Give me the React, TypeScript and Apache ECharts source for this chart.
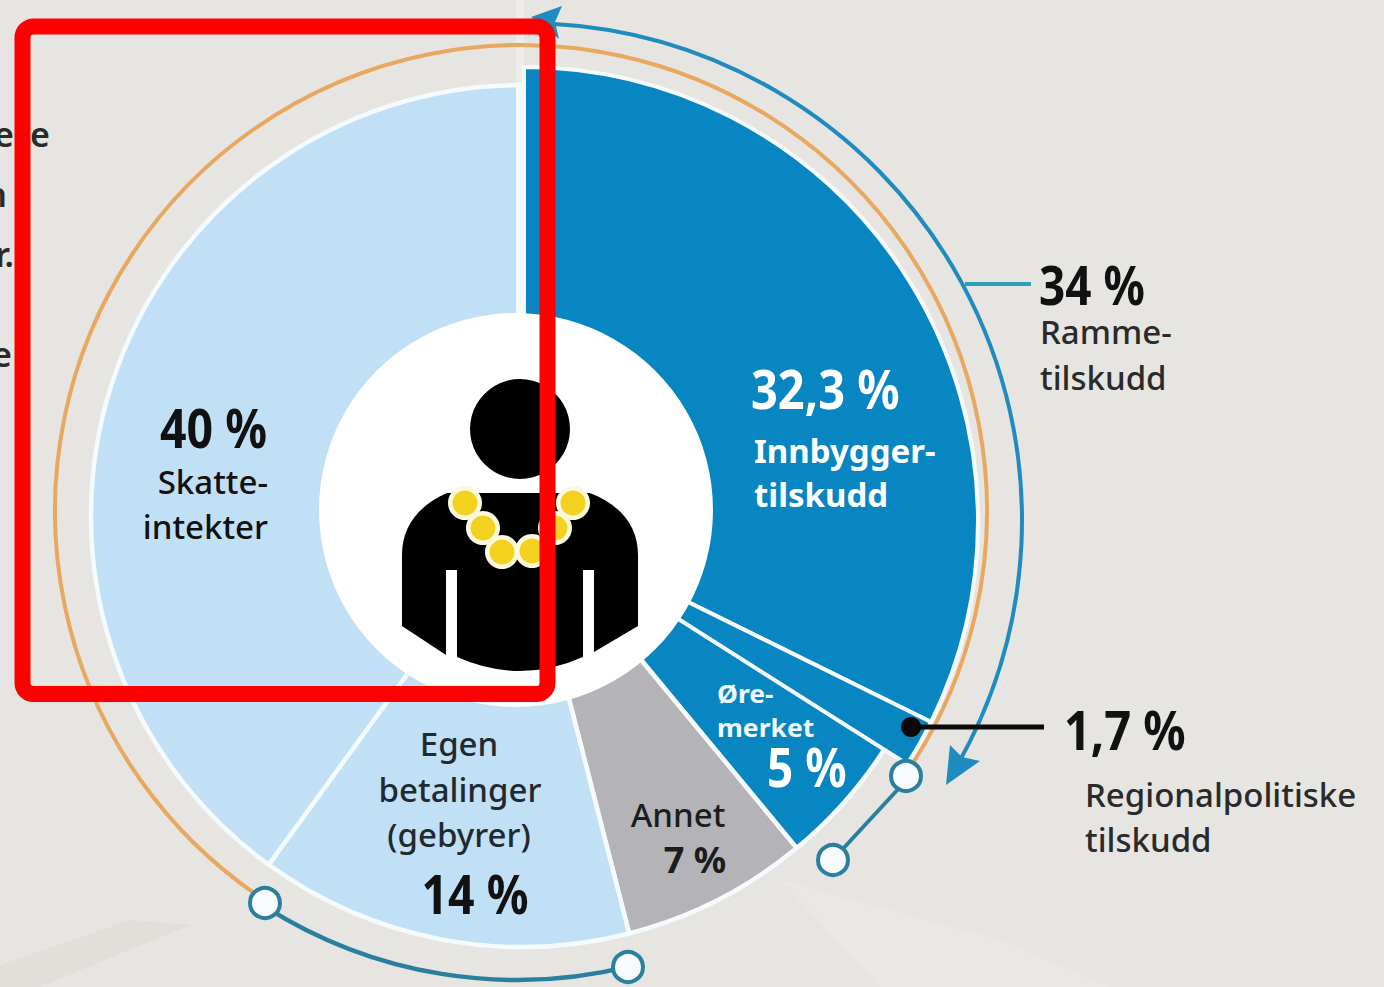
import React, { useEffect, useRef } from "react";
import * as echarts from "echarts";

const categories = ["Innbyggertilskudd", "Regionalpolitiske tilskudd", "Øremerket", "Annet", "Egenbetalinger (gebyrer)", "Skatteinntekter"];
const shares = [32.3, 1.7, 5, 7, 14, 40];
const outerCategories = new Set(["Innbyggertilskudd", "Regionalpolitiske tilskudd"]);
const sliceColors = ["#0886c1", "#0886c1", "#0886c1", "#b4b4b8", "#c1e0f5", "#c1e0f5"];

const BG = "#e6e5e1";
const SANS = "'Noto Sans', 'Open Sans', sans-serif";

const clock = (deg: number) => ((deg - 90) * Math.PI) / 180;

const BODY =
  "M446 655 L402 626 L402 555 C402 525 420 505 447 493 L590 493 C620 505 638 525 638 555 L638 626 L594 652 L594 570 L583 570 L583 657 Q520 685 457 657 L457 570 L446 570 Z";

type T = { t: string; x: number; y: number; s: number; c?: string; w?: number; a?: string; k?: number };
const labels: T[] = [
  { t: "40 %", x: 160, y: 427, s: 54, w: 700, k: 0.86 },
  { t: "Skatte-", x: 268, y: 481, s: 33, w: 500, a: "right" },
  { t: "intekter", x: 268, y: 526, s: 33, w: 500, a: "right" },
  { t: "32,3 %", x: 751, y: 388, s: 54, w: 700, c: "#fff", k: 0.87 },
  { t: "Innbygger-", x: 754, y: 450, s: 33, w: 700, c: "#fff" },
  { t: "tilskudd", x: 754, y: 494, s: 33, w: 700, c: "#fff" },
  { t: "Øre-", x: 717, y: 693, s: 25, w: 700, c: "#f0f8fc", k: 1.06 },
  { t: "merket", x: 717, y: 727, s: 25, w: 700, c: "#f0f8fc", k: 1.06 },
  { t: "5 %", x: 767, y: 766, s: 54, w: 700, c: "#fff", k: 0.85 },
  { t: "Annet", x: 678, y: 814, s: 33, w: 500, a: "center", c: "#1c1c1c" },
  { t: "7 %", x: 695, y: 859, s: 36, w: 700, a: "center", c: "#1c1c1c" },
  { t: "Egen", x: 459, y: 743, s: 33, w: 500, a: "center", c: "#1f2a30" },
  { t: "betalinger", x: 460, y: 789, s: 33, w: 500, a: "center", c: "#1f2a30" },
  { t: "(gebyrer)", x: 459, y: 834, s: 33, w: 500, a: "center", c: "#1f2a30" },
  { t: "14 %", x: 475, y: 893, s: 54, w: 700, a: "center", k: 0.86 },
  { t: "34 %", x: 1039, y: 284, s: 54, w: 700, k: 0.85 },
  { t: "Ramme-", x: 1040, y: 331, s: 33, w: 500, c: "#2a2a2a" },
  { t: "tilskudd", x: 1040, y: 377, s: 33, w: 500, c: "#2a2a2a" },
  { t: "1,7 %", x: 1064, y: 729, s: 54, w: 700, k: 0.87 },
  { t: "Regionalpolitiske", x: 1085, y: 794, s: 33, w: 500, c: "#2a2a2a" },
  { t: "tilskudd", x: 1085, y: 839, s: 33, w: 500, c: "#2a2a2a" },
  { t: "e", x: 14, y: 134, s: 34, a: "right", c: "#2a2a2a", w: 600 },
  { t: "e", x: 50, y: 134, s: 34, a: "right", c: "#2a2a2a", w: 600 },
  { t: "n", x: 7, y: 194, s: 34, a: "right", c: "#2a2a2a", w: 600 },
  { t: "r.", x: 14, y: 254, s: 34, a: "right", c: "#2a2a2a", w: 600 },
  { t: "e", x: 12, y: 354, s: 34, a: "right", c: "#2a2a2a", w: 600 },
];

const beads = [[465, 503], [483, 528], [502, 552], [532, 551], [555, 528], [573, 503]];

const arc = (cx: number, cy: number, r: number, a0: number, a1: number, stroke: string, lineWidth: number, z: number) => ({
  type: "arc",
  z,
  shape: { cx, cy, r, startAngle: clock(a0), endAngle: clock(a1), clockwise: true },
  style: { stroke, lineWidth, fill: "none" },
});

const ring = (cx: number, cy: number, r: number, z: number, stroke = "#2a7f9e") => ({
  type: "circle",
  z,
  shape: { cx, cy, r },
  style: { fill: "#f8fbfd", stroke, lineWidth: 4 },
});

export default function App() {
  const ref = useRef<HTMLDivElement>(null);
  useEffect(() => {
    if (!ref.current) return;
    echarts.graphic.registerShape("mayorBody", echarts.graphic.extendPath(BODY, {}) as any);
    const chart = echarts.init(ref.current, undefined, { renderer: "svg" });
    const pieBase = {
      type: "pie",
      startAngle: 90,
      clockwise: true,
      silent: true,
      label: { show: false },
      labelLine: { show: false },
      emphasis: { disabled: true },
    };
    const hidden = { color: "transparent", borderColor: "transparent", borderWidth: 0 };
    const option: any = {
      animation: false,
      backgroundColor: BG,
      series: [
        {
          ...pieBase,
          z: 2,
          center: [522, 516],
          radius: [0, 431],
          data: categories.map((name, i) => ({
            name,
            value: shares[i],
            itemStyle: outerCategories.has(name) ? hidden : { color: sliceColors[i], borderColor: "#f4fafd", borderWidth: 4.5 },
          })),
        },
        {
          ...pieBase,
          z: 3,
          center: [524, 521],
          radius: [0, 454],
          data: categories.map((name, i) => ({
            name,
            value: shares[i],
            itemStyle: outerCategories.has(name) ? { color: sliceColors[i], borderColor: "#f4fafd", borderWidth: 4 } : hidden,
          })),
        },
      ],
      graphic: [
        // background shading
        { type: "polygon", z: -1, shape: { points: [[0, 965], [130, 920], [190, 925], [40, 987], [0, 987]] }, style: { fill: "#dcdbd6", opacity: 0.55 } },
        { type: "polygon", z: -1, shape: { points: [[780, 880], [1000, 940], [1110, 987], [880, 987]] }, style: { fill: "#ebeae7", opacity: 0.7 } },
        { type: "line", z: -1, shape: { x1: 520, y1: 0, x2: 520, y2: 90 }, style: { stroke: "#eeedea", lineWidth: 8 } },
        { type: "line", z: 5, shape: { x1: 520, y1: 84, x2: 520, y2: 320 }, style: { stroke: "#f4fafd", lineWidth: 8 } },
        // rings
        arc(521, 511, 466, 213, 360 + 124.5, "#e9a860", 4, 6),
        arc(525, 520, 497, 3, 120, "#1f8bbf", 4, 6),
        arc(517, 511, 469, 166, 212.5, "#2a7f9e", 4.5, 6),
        { type: "line", z: 6, shape: { x1: 840, y1: 852, x2: 901, y2: 786 }, style: { stroke: "#2a7f9e", lineWidth: 4 } },
        ring(265, 903, 15, 7),
        ring(628, 967, 15, 7),
        ring(833, 860, 15, 7),
        ring(906, 776, 15, 7),
        { type: "polygon", z: 7, shape: { points: [[531, 17], [562, 6], [555, 22], [559, 39]] }, style: { fill: "#1f8bbf" } },
        { type: "polygon", z: 7, shape: { points: [[946, 785], [950, 745], [962, 757], [980, 761]] }, style: { fill: "#1f8bbf" } },
        // leaders
        { type: "line", z: 6, shape: { x1: 965, y1: 284, x2: 1031, y2: 284 }, style: { stroke: "#2ba0b8", lineWidth: 4 } },
        { type: "line", z: 8, shape: { x1: 911, y1: 727, x2: 1044, y2: 727 }, style: { stroke: "#0a0a0a", lineWidth: 5 } },
        { type: "circle", z: 8, shape: { cx: 911, cy: 727, r: 10 }, style: { fill: "#0a0a0a" } },
        // centre figure
        { type: "circle", z: 9, shape: { cx: 516, cy: 510, r: 197 }, style: { fill: "#fff" } },
        { type: "circle", z: 10, shape: { cx: 520, cy: 429, r: 50 }, style: { fill: "#000" } },
        { type: "mayorBody", z: 10, x: 0, y: 0, style: { fill: "#000" } },
        ...beads.map(([cx, cy]) => ({ type: "circle", z: 11, shape: { cx, cy, r: 17 }, style: { fill: "#fcf8dc" } })),
        ...beads.map(([cx, cy]) => ({ type: "circle", z: 12, shape: { cx, cy, r: 12.5 }, style: { fill: "#f2d21f" } })),
        // texts
        ...labels.map((l) => ({
          type: "text",
          z: 13,
          x: l.x,
          y: l.y,
          scaleX: l.k ?? 1,
          style: {
            text: l.t,
            fill: l.c ?? "#111",
            fontSize: l.s,
            fontWeight: l.w ?? 400,
            fontFamily: SANS,
            textAlign: l.a ?? "left",
            textVerticalAlign: "middle",
          },
        })),
        // red frame
        {
          type: "rect",
          z: 20,
          shape: { x: 22.5, y: 26.5, width: 525, height: 667.5, r: 11 },
          style: { fill: "none", stroke: "#fe0000", lineWidth: 16 },
        },
      ],
    };
    chart.setOption(option);
    return () => chart.dispose();
  }, []);
  return <div ref={ref} style={{ position: "fixed", left: 0, top: 0, width: 1384, height: 987 }} />;
}
